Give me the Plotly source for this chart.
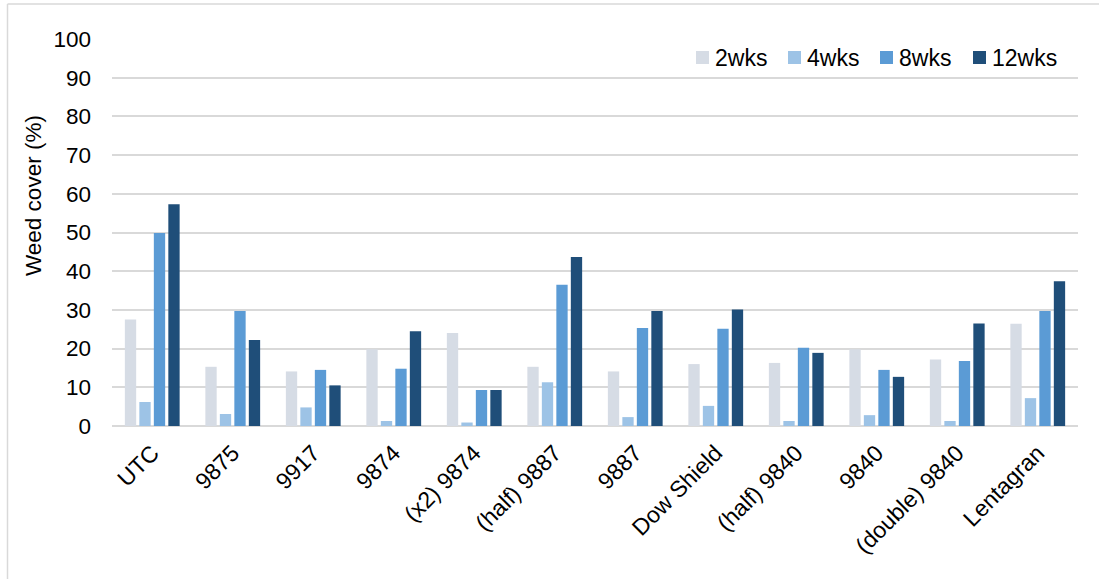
import plotly.graph_objects as go

# Treatments along the x axis
treatments = ["UTC", "9875", "9917", "9874", "(x2) 9874", "(half) 9887", "9887",
              "Dow Shield", "(half) 9840", "9840", "(double) 9840", "Lentagran"]

# Weed cover (%) at each assessment time
cover_2wks = [27.5, 15.3, 14.1, 19.8, 24.0, 15.3, 14.1, 16.0, 16.3, 19.8, 17.2, 26.4]
cover_4wks = [6.2, 3.1, 4.8, 1.3, 0.9, 11.3, 2.3, 5.2, 1.3, 2.8, 1.3, 7.2]
cover_8wks = [49.9, 29.7, 14.5, 14.8, 9.3, 36.5, 25.3, 25.1, 20.2, 14.5, 16.8, 29.7]
cover_12wks = [57.3, 22.2, 10.5, 24.5, 9.3, 43.7, 29.7, 30.1, 18.9, 12.7, 26.5, 37.4]

series = [
    ("2wks", cover_2wks, "#D6DCE5"),
    ("4wks", cover_4wks, "#9DC3E6"),
    ("8wks", cover_8wks, "#5B9BD5"),
    ("12wks", cover_12wks, "#1F4E79"),
]

FONT = "Liberation Sans, Arial, sans-serif"
GRID = "#D9D9D9"

fig = go.Figure()
for name, vals, color in series:
    fig.add_trace(go.Bar(x=treatments, y=vals, name=name, showlegend=False,
                         marker=dict(color=color, line=dict(width=0))))

W, H = 1099, 579
L, R, T, B = 112, 21, 39, 153
pw, ph = W - L - R, H - T - B

def px_x(px):
    return (px - L) / pw

def px_y(py):
    return (H - B - py) / ph

# Horizontal legend in the top-right corner of the plot: swatch + label per series
legend_left = [696, 788, 880, 973]
legend_cy = 57.5
shapes = []
annotations = []
for (name, _, color), lx in zip(series, legend_left):
    shapes.append(dict(type="rect", xref="paper", yref="paper",
                       x0=px_x(lx), x1=px_x(lx + 13),
                       y0=px_y(legend_cy - 6.5), y1=px_y(legend_cy + 6.5),
                       fillcolor=color, line=dict(width=0)))
    annotations.append(dict(text=name, xref="paper", yref="paper",
                            x=px_x(lx + 17), y=px_y(legend_cy),
                            xanchor="left", yanchor="middle", showarrow=False,
                            font=dict(size=23, color="#000000")))

# Vertical axis title
annotations.append(dict(text="Weed cover (%)", xref="paper", yref="paper",
                        x=px_x(33), y=px_y(196), xanchor="center", yanchor="middle",
                        textangle=-90, showarrow=False,
                        font=dict(size=22.5, color="#000000")))

# Chart-area frame (top and left edges)
shapes += [
    dict(type="line", xref="paper", yref="paper", x0=px_x(7.5), x1=px_x(1110),
         y0=px_y(4), y1=px_y(4), line=dict(color=GRID, width=1.5)),
    dict(type="line", xref="paper", yref="paper", x0=px_x(7.5), x1=px_x(7.5),
         y0=px_y(4), y1=px_y(600), line=dict(color=GRID, width=1.5)),
]

fig.update_layout(
    width=W, height=H,
    margin=dict(l=L, r=R, t=T, b=B, autoexpand=False),
    paper_bgcolor="white", plot_bgcolor="white",
    font=dict(family=FONT, size=22, color="#000000"),
    barmode="group", bargap=0.28, bargroupgap=0.22,
    showlegend=False,
    xaxis=dict(tickangle=-45, showgrid=False, showline=False, zeroline=False,
               ticks="", ticklabelstandoff=8, tickfont=dict(size=23)),
    yaxis=dict(range=[0, 100], dtick=10, showgrid=True, gridcolor=GRID, gridwidth=1.5,
               zeroline=True, zerolinecolor=GRID, zerolinewidth=1.5, showline=False,
               ticks="", ticklabelstandoff=20, tickfont=dict(size=22.5)),
    shapes=shapes,
    annotations=annotations,
)

fig.write_html("out.html")
